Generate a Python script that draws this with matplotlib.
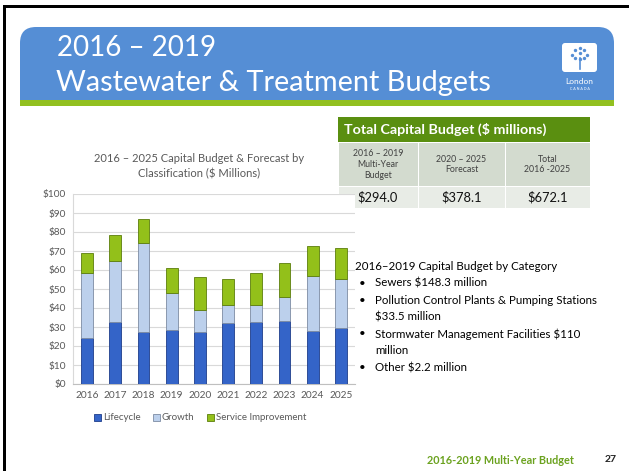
import numpy as np
import matplotlib
matplotlib.use("Agg")
import matplotlib.pyplot as plt
from matplotlib.patches import FancyBboxPatch, Rectangle

plt.rcParams['font.family'] = ['Lato', 'DejaVu Sans']

# donnees ($ millions)
years = ['2016', '2017', '2018', '2019', '2020', '2021', '2022', '2023', '2024', '2025']
lifecycle = [24.4, 32.8, 27.5, 28.6, 27.2, 31.9, 32.5, 33.2, 28.1, 29.3]
growth = [34.2, 31.9, 46.9, 19.5, 11.7, 9.5, 8.9, 12.4, 28.7, 26.0]
service = [10.2, 13.9, 12.3, 13.1, 17.6, 13.9, 16.8, 18.3, 15.8, 16.5]
series_names = ['Lifecycle', 'Growth', 'Service Improvement']

table_title = 'Total Capital Budget ($ millions)'
table_heads = ['2016 – 2019\nMulti-Year\nBudget', '2020 – 2025\nForecast', 'Total\n2016 -2025']
table_values = ['$294.0', '$378.1', '$672.1']

bullets = ['Sewers $148.3 million',
           'Pollution Control Plants & Pumping Stations\n$33.5 million',
           'Stormwater Management Facilities $110\nmillion',
           'Other $2.2 million']

W, H = 629, 471
fig = plt.figure(figsize=(W / 100, H / 100), dpi=100)

# calque de fond en pixels pour la diapo
bg = fig.add_axes([0, 0, 1, 1])
bg.set_xlim(0, W)
bg.set_ylim(H, 0)
bg.axis('off')

# cadre noir
bg.add_patch(Rectangle((3, 5), W, 2.5, color='black', lw=0))
bg.add_patch(Rectangle((3, 5), 3, H, color='black', lw=0))

# bandeau titre
blue = '#558ED5'
bg.add_patch(FancyBboxPatch((20, 27), 594, 70, boxstyle='round,pad=0,rounding_size=16',
                            fc=blue, ec='none'))
bg.add_patch(Rectangle((20, 60), 594, 41, color=blue, lw=0))
bg.add_patch(Rectangle((20, 100), 594, 6, color='#92C020', lw=0))
bg.text(57, 48, '2016 – 2019', color='white', fontsize=20, va='center', ha='left')
bg.text(56, 83, 'Wastewater & Treatment Budgets', color='white', fontsize=20.8,
        va='center', ha='left')

# logo
bg.add_patch(FancyBboxPatch((562, 43), 35, 29, boxstyle='round,pad=0,rounding_size=3',
                            fc='white', ec='none'))
bg.plot([579.5, 579.5], [58, 69], color=blue, lw=1.2)
bg.scatter([579.5, 575, 584, 572, 579.5, 587, 575, 584, 579.5],
           [48, 50, 50, 55, 53, 55, 58, 58, 59], s=6, color=blue, lw=0)
bg.text(579.5, 82, 'London', color='white', fontsize=6, ha='center', va='center')
bg.text(579.5, 89.5, 'C A N A D A', color='white', fontsize=2.6, ha='center', va='center')

# tableau
tx = [338, 418, 505, 590]
green = '#5A8F10'
bg.add_patch(Rectangle((tx[0], 117), tx[-1] - tx[0], 25, color=green, lw=0))
bg.text(344, 129.5, table_title, color='white', fontsize=10.3, fontweight='bold',
        va='center', ha='left')
for i in range(3):
    bg.add_patch(Rectangle((tx[i] + 0.5, 143), tx[i + 1] - tx[i] - 1, 43,
                           color='#D3DBCF', lw=0))
    bg.add_patch(Rectangle((tx[i] + 0.5, 187), tx[i + 1] - tx[i] - 1, 21,
                           color='#E8ECE6', lw=0))
    cx = (tx[i] + tx[i + 1]) / 2
    bg.text(cx, 164.5, table_heads[i], fontsize=6.3, color='#404040', ha='center',
            va='center', linespacing=1.25)
    bg.text(cx, 197.5, table_values[i], fontsize=9.3, color='#111111', ha='center',
            va='center')

# texte par categorie
bg.text(355, 267, '2016–2019 Capital Budget by Category', fontsize=8.3, va='center', ha='left')
yb = 283.5
for b in bullets:
    bg.text(359, yb, '•', fontsize=8.3, va='center', ha='left')
    for ln in b.split('\n'):
        bg.text(375, yb, ln, fontsize=8.3, va='center', ha='left')
        yb += 16.8

# pied de page
bg.text(500, 461, '2016-2019 Multi-Year Budget', color='#6BA21F', fontsize=7.8,
        fontweight='bold', ha='center', va='center')
bg.text(611, 460, '27', color='#222222', fontsize=7.5, fontweight='bold',
        ha='center', va='center')

# graphique
ax = fig.add_axes([73 / W, 1 - 384 / H, 282 / W, 190 / H])
x = np.arange(len(years))
lc = np.array(lifecycle)
gr = np.array(growth)
sv = np.array(service)
bw = 0.42
ax.bar(x, lc, bw, color='#3464C8', edgecolor='#1D3C8A', lw=0.6, label=series_names[0], zorder=3)
ax.bar(x, gr, bw, bottom=lc, color='#BCD0EC', edgecolor='#7D8CA3', lw=0.6,
       label=series_names[1], zorder=3)
ax.bar(x, sv, bw, bottom=lc + gr, color='#93C01A', edgecolor='#5C7E0B', lw=0.6,
       label=series_names[2], zorder=3)

ax.set_xlim(-0.5, len(years) - 0.5)
ax.set_ylim(0, 100)
ax.set_yticks(np.arange(0, 101, 10))
ax.set_yticklabels(['$%d' % v for v in range(0, 101, 10)])
ax.set_xticks(x)
ax.set_xticklabels(years)
ax.tick_params(length=0, labelsize=7.3, colors='#595959', pad=5)
ax.grid(axis='y', color='#D9D9D9', lw=0.8, zorder=0)
for s in ['top', 'right']:
    ax.spines[s].set_visible(False)
ax.spines['left'].set_color('#D9D9D9')
ax.spines['bottom'].set_color('#BFBFBF')

fig.text(199 / W, 1 - 166 / H, '2016 – 2025 Capital Budget & Forecast by\nClassification ($ Millions)',
         ha='center', va='center', fontsize=8, color='#595959', linespacing=1.4)

fig.legend(loc='center', bbox_to_anchor=(200 / W, 1 - 418 / H), ncol=3, frameon=False,
           fontsize=7, handlelength=0.7, handleheight=0.7, handletextpad=0.2,
           columnspacing=1.3, labelcolor='#595959')

fig.savefig('out.png', dpi=100)
